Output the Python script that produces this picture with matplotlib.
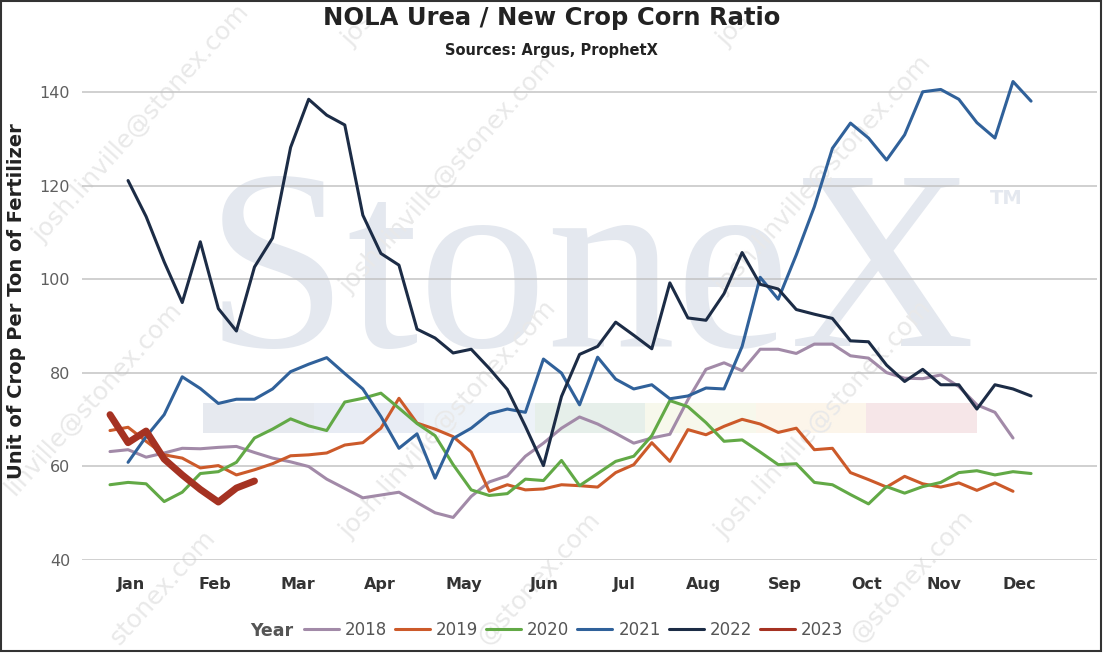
import matplotlib
matplotlib.use('Agg')
import matplotlib.pyplot as plt
from matplotlib.patches import Rectangle
import numpy as np

W, H = 1103, 653

# ---------------- data ----------------
years = ['2018', '2019', '2020', '2021', '2022', '2023']
first_week = [0, 0, 0, 1, 1, 0]

v2018 = [63.1, 63.5, 61.9, 62.8, 63.8, 63.7, 64.0, 64.2, 62.9, 61.7,
         60.9, 59.9, 57.2, 55.2, 53.2, 53.8, 54.4, 52.2, 50.0, 49.0,
         53.5, 56.6, 57.9, 62.1, 64.9, 68.1, 70.5, 69.0, 67.0, 64.9,
         66.0, 66.8, 74.2, 80.7, 82.1, 80.4, 85.0, 85.0, 84.1, 86.1,
         86.1, 83.6, 83.1, 80.0, 78.8, 78.7, 79.5, 77.0, 73.1, 71.5,
         66.0]
v2019 = [67.6, 68.3, 65.3, 62.4, 61.7, 59.6, 60.1, 58.1, 59.2, 60.5,
         62.2, 62.4, 62.8, 64.5, 65.0, 68.1, 74.5, 69.2, 67.9, 66.3,
         63.0, 54.6, 56.0, 54.9, 55.1, 56.0, 55.8, 55.5, 58.6, 60.3,
         65.0, 61.0, 67.8, 66.7, 68.5, 70.0, 69.0, 67.2, 68.1, 63.5,
         63.8, 58.6, 57.1, 55.5, 57.8, 56.2, 55.5, 56.4, 54.8, 56.4,
         54.6]
v2020 = [56.0, 56.5, 56.2, 52.4, 54.4, 58.4, 58.8, 60.8, 66.0, 67.9,
         70.1, 68.6, 67.6, 73.7, 74.5, 75.6, 72.4, 69.1, 66.5, 60.3,
         54.9, 53.7, 54.1, 57.2, 56.9, 61.2, 55.8, 58.4, 61.0, 62.1,
         66.5, 74.0, 72.7, 69.3, 65.3, 65.6, 63.0, 60.3, 60.5, 56.5,
         56.0, 53.9, 51.9, 55.6, 54.2, 55.6, 56.5, 58.6, 59.0, 58.1,
         58.8, 58.4]
v2021 = [60.8, 66.3, 71.0, 79.1, 76.6, 73.4, 74.3, 74.3, 76.5, 80.2,
         81.8, 83.2, 79.8, 76.5, 70.6, 63.8, 66.9, 57.4, 65.9, 68.1,
         71.2, 72.2, 71.5, 82.9, 79.9, 73.1, 83.3, 78.6, 76.5, 77.4,
         74.4, 75.0, 76.7, 76.5, 85.6, 100.4, 95.7, 105.2, 115.5, 128.0,
         133.4, 130.2, 125.5, 130.9, 140.1, 140.6, 138.5, 133.5, 130.2, 142.3,
         138.1]
v2022 = [121.1, 113.4, 103.7, 95.0, 108.0, 93.7, 88.9, 102.6, 108.8, 128.2,
         138.5, 135.1, 133.0, 113.7, 105.5, 103.0, 89.3, 87.4, 84.2, 85.0,
         80.9, 76.4, 68.5, 60.1, 74.9, 83.9, 85.6, 90.8, 88.0, 85.1,
         99.2, 91.7, 91.2, 96.9, 105.7, 98.9, 97.9, 93.5, 92.5, 91.6,
         86.8, 86.6, 81.6, 78.1, 80.7, 77.4, 77.4, 72.2, 77.4, 76.5,
         75.0]
v2023 = [71.0, 65.0, 67.5, 61.5, 58.1, 55.0, 52.3, 55.3, 56.8]

month_labels = ['Jan', 'Feb', 'Mar', 'Apr', 'May', 'Jun',
                'Jul', 'Aug', 'Sep', 'Oct', 'Nov', 'Dec']
month_pos = [1.16, 5.80, 10.38, 14.92, 19.59, 24.03,
             28.46, 32.87, 37.38, 41.89, 46.20, 50.37]
y_ticks = [40, 60, 80, 100, 120, 140]

series = [v2018, v2019, v2020, v2021, v2022, v2023]
colors = ['#a28aa8', '#cc5a2a', '#62a946', '#30619a', '#1c2c46', '#a53222']
widths = [2.2, 2.2, 2.2, 2.2, 2.2, 5.0]

# ---------------- figure ----------------
fig = plt.figure(figsize=(W / 100, H / 100), dpi=100)
fig.patch.set_facecolor('white')


def fx(x):
    return x / W


def fy(y):
    return 1 - y / H


# background StoneX watermark
fig.text(fx(205), fy(346), 'StoneX', fontfamily='Liberation Serif', fontsize=185,
         color='#e4e8ef', ha='left', va='baseline', zorder=-6)
fig.text(fx(990), fy(204), 'TM', fontfamily='DejaVu Sans', fontweight='bold',
         fontsize=14, color='#e4e8ef', ha='left', va='baseline', zorder=-6)
bar_colors = ['#e6e9ef', '#e8ecf4', '#edf2f8', '#e6efea', '#f7f8ec', '#fcf5ea', '#f6e6e8']
seg = (977 - 203) / 7
for i, c in enumerate(bar_colors):
    fig.add_artist(Rectangle((fx(203 + i * seg), fy(433)), seg / W, 30 / H,
                             facecolor=c, edgecolor='none', zorder=-5,
                             transform=fig.transFigure))

# email watermarks (kept inside the picture)
mark = 'josh.linville@stonex.com'
wm = [(350, 295, mark), (725, 295, mark), (350, 540, mark), (725, 540, mark),
      (43, 244, mark), (14.5, 496, 'linville@stonex.com'),
      (120, 646, 'stonex.com'), (487, 646, '@stonex.com'), (860, 644, '@stonex.com'),
      (352, 48, 'jos'), (727, 48, 'jos')]
for sx, sy, t in wm:
    fig.text(fx(sx), fy(sy), t, rotation=48, rotation_mode='anchor', ha='left',
             va='baseline', fontsize=18, color='#e9e9e9', zorder=-4)

# axes
ax_left, ax_right = 82, 1097
ax_bottom, ax_top = 559.5, 68.9
ax = fig.add_axes([fx(ax_left), fy(ax_bottom), (ax_right - ax_left) / W,
                   (ax_bottom - ax_top) / H])
ax.set_facecolor('none')
ax.patch.set_alpha(0)

lines = []
for yr, fw, vals, c, lw in zip(years, first_week, series, colors, widths):
    x = np.arange(fw, fw + len(vals))
    ln, = ax.plot(x, vals, color=c, lw=lw, solid_joinstyle='round',
                  solid_capstyle='round', label=yr)
    lines.append(ln)

ax.set_xlim((ax_left - 110) / 18.06, (ax_right - 110) / 18.06)
ax.set_ylim(40, 145)
ax.set_yticks(y_ticks)
ax.set_xticks(month_pos)
ax.set_xticklabels(month_labels)
ax.yaxis.grid(True, color='#c3c3c3', lw=1.1)
ax.set_axisbelow(True)
for s in ax.spines.values():
    s.set_visible(False)
ax.tick_params(axis='y', length=0, pad=8.5, labelsize=11.5, labelcolor='#5f5f5f')
ax.tick_params(axis='x', length=0, pad=12.5, labelsize=11.5, labelcolor='#333333')
for lab in ax.get_xticklabels():
    lab.set_fontweight('bold')

# titles
fig.text(fx(552), fy(25), 'NOLA Urea / New Crop Corn Ratio', ha='center', va='baseline',
         fontsize=17.5, fontweight='bold', color='#222222')
fig.text(fx(551), fy(55), 'Sources: Argus, ProphetX', ha='center', va='baseline',
         fontsize=10.5, fontweight='bold', color='#222222')
fig.text(fx(17), fy(301), 'Unit of Crop Per Ton of Fertilizer', rotation=90,
         ha='center', va='center', fontsize=14, fontweight='bold', color='#222222')

# legend
fig.text(fx(250), fy(636), 'Year', ha='left', va='baseline', fontsize=12.5,
         fontweight='bold', color='#555555')
leg = ax.legend(lines, years, ncol=6, loc='center left',
                bbox_to_anchor=(fx(304), fy(630)), bbox_transform=fig.transFigure,
                frameon=False, fontsize=12, handlelength=35 / 16.7,
                handletextpad=6 / 16.7, columnspacing=8 / 16.7, borderpad=0,
                borderaxespad=0, labelcolor='#555555')
for hl in leg.get_lines():
    hl.set_linewidth(2.2)

# border
fig.add_artist(Rectangle((fx(1), fy(651)), 1100 / W, 650 / H, fill=False,
                         edgecolor='#333333', lw=1.5, transform=fig.transFigure,
                         zorder=10))

fig.savefig('out.png', dpi=100)
